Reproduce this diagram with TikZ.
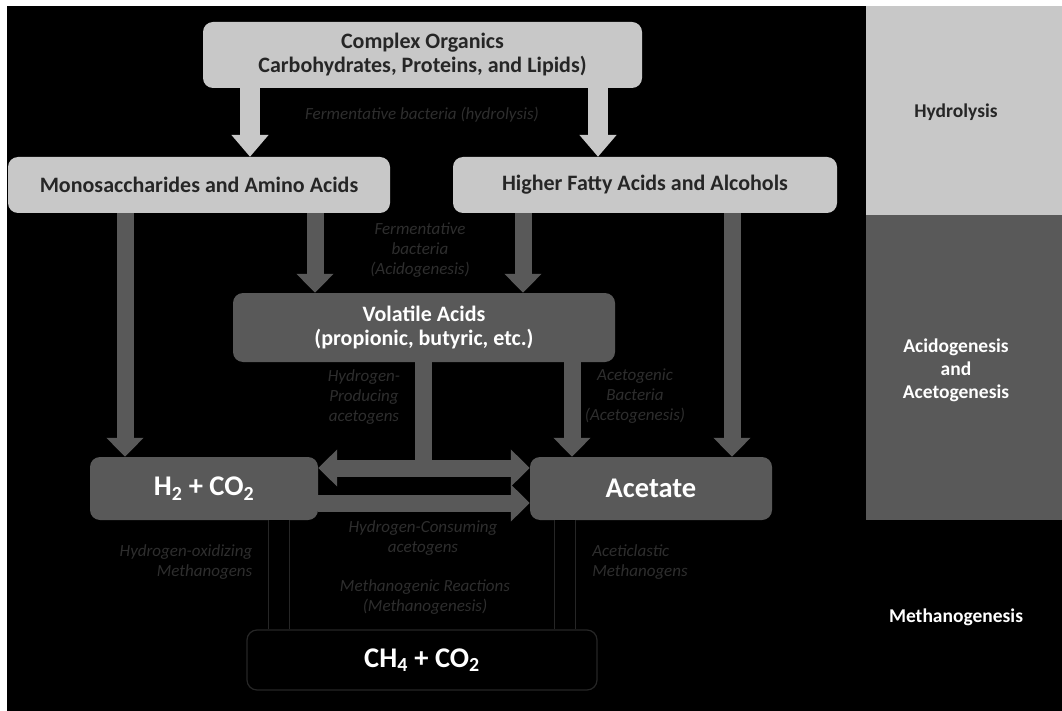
\documentclass[tikz,border=0pt]{standalone}
\usepackage{fontspec}
\setmainfont{Carlito}
\usetikzlibrary{arrows.meta}

\definecolor{boxlight}{HTML}{C8C8C8}
\definecolor{boxdark}{HTML}{595959}
\definecolor{notegray}{HTML}{2E2E2E}
\definecolor{rimgray}{HTML}{262626}

\tikzset{
  lightbox/.style={fill=boxlight, rounded corners=10pt, inner sep=0pt, align=center,
    text=black!85, font=\bfseries\fontsize{22}{24}\selectfont},
  darkbox/.style={fill=boxdark, rounded corners=10pt, inner sep=0pt, align=center,
    text=white, font=\bfseries\fontsize{22}{24}\selectfont},
  bigtext/.style={font=\bfseries\fontsize{28.5}{32}\selectfont},
  lightarrow/.style={draw=boxlight, line width=20pt, -{Triangle[width=36pt,length=22pt]}},
  darkarrow/.style={draw=boxdark, line width=17pt, -{Triangle[width=36pt,length=19pt]}},
  darkshaft/.style={draw=boxdark, line width=17pt},
  hollowarrow/.style={draw=rimgray, double=black, line width=1.2pt, double distance=20pt},
  bactlabel/.style={text=notegray, align=center, font=\itshape\fontsize{17}{20}\selectfont},
  stage/.style={align=center, font=\bfseries\fontsize{19.5}{23}\selectfont}
}

\begin{document}
\begin{tikzpicture}[x=1pt, y=-1pt]
\useasboundingbox (0,0) rectangle (1062,711);
\fill[white] (0,0) rectangle (1062,711);
\fill[black] (7,6) rectangle (1062,711);

% stage panels
\fill[boxlight] (866,6) rectangle (1062,215);
\fill[boxdark] (866,215) rectangle (1062,520);
\node[stage, text=black!85] (hydro) at (956,112) {Hydrolysis};
\node[stage, text=white] (acido) at (956,370) {Acidogenesis\\and\\Acetogenesis};
\node[stage, text=white] (metha) at (956,617) {Methanogenesis};

% substrates and products
\node[lightbox, minimum width=439pt, minimum height=66pt] (complex) at (422.5,55)
  {Complex Organics\\Carbohydrates, Proteins, and Lipids)};
\node[lightbox, minimum width=382pt, minimum height=56pt] (mono) at (199,185)
  {Monosaccharides and Amino Acids};
\node[lightbox, minimum width=384pt, minimum height=56pt] (fatty) at (645,185)
  {Higher Fatty Acids and Alcohols};
\node[darkbox, minimum width=382pt, minimum height=69pt] (vfa) at (424,327.5)
  {Volatile Acids\\(propionic, butyric, etc.)};
\node[darkbox, bigtext, minimum width=228pt, minimum height=63pt] (htwo) at (204,488.5)
  {H\textsubscript{2} + CO\textsubscript{2}};
\node[darkbox, bigtext, minimum width=242pt, minimum height=63pt] (acetate) at (651,488.5)
  {Acetate};
\node[draw=rimgray, line width=1.2pt, rounded corners=10pt, fill=black, text=white, bigtext,
  minimum width=350pt, minimum height=60pt] (methane) at (422,660)
  {CH\textsubscript{4} + CO\textsubscript{2}};

% arrow columns
\coordinate (ca) at (250,0);
\coordinate (cb) at (598,0);
\coordinate (ma) at (125,0);
\coordinate (mb) at (315,0);
\coordinate (fa) at (523,0);
\coordinate (fb) at (732,0);
\coordinate (vd) at (423,0);
\coordinate (va) at (572,0);
\coordinate (ha) at (279,0);
\coordinate (aa) at (565,0);
\coordinate (jtop) at (0,468);
\coordinate (jlow) at (0,503);

\draw[lightarrow] (complex.south -| ca) -- (mono.north -| ca);
\draw[lightarrow] (complex.south -| cb) -- (fatty.north -| cb);
\draw[darkarrow] (mono.south -| ma) -- (htwo.north -| ma);
\draw[darkarrow] (mono.south -| mb) -- (vfa.north -| mb);
\draw[darkarrow] (fatty.south -| fa) -- (vfa.north -| fa);
\draw[darkarrow] (fatty.south -| fb) -- (acetate.north -| fb);
\draw[darkarrow] (vfa.south -| va) -- (acetate.north -| va);
\draw[darkshaft] (vfa.south -| vd) -- ([yshift=8pt]vd |- jtop);
\draw[darkarrow, {Triangle[width=36pt,length=19pt]}-{Triangle[width=36pt,length=19pt]}]
  (htwo.east |- jtop) -- (acetate.west |- jtop);
\draw[darkarrow] (htwo.east |- jlow) -- (acetate.west |- jlow);
\draw[hollowarrow] (htwo.south -| ha) -- (methane.north -| ha);
\draw[hollowarrow] (acetate.south -| aa) -- (methane.north -| aa);

% organisms
\node[bactlabel] (lhyd) at (422,115) {Fermentative bacteria (hydrolysis)};
\node[bactlabel] (lferm) at (420,250) {Fermentative\\bacteria\\(Acidogenesis)};
\node[bactlabel] (lhpa) at (364,397) {Hydrogen-\\Producing\\acetogens};
\node[bactlabel] (lacet) at (635,396) {Acetogenic\\Bacteria\\(Acetogenesis)};
\node[bactlabel, align=right] (lhom) at (186,562) {Hydrogen-oxidizing\\Methanogens};
\node[bactlabel] (lhca) at (423,538) {Hydrogen-Consuming\\acetogens};
\node[bactlabel] (lmr) at (425,597) {Methanogenic Reactions\\(Methanogenesis)};
\node[bactlabel, align=left] (lacm) at (640,562) {Aceticlastic\\Methanogens};
\end{tikzpicture}
\end{document}
